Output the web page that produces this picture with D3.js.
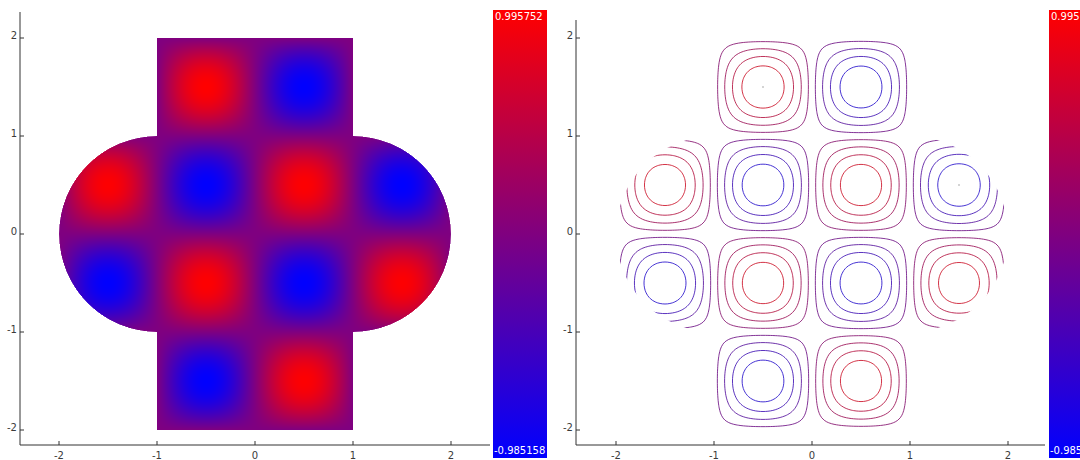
<!DOCTYPE html>
<html>
<head>
<meta charset="utf-8">
<script src="https://cdn.jsdelivr.net/npm/d3@7"></script>
<style>
  html, body { margin: 0; padding: 0; background: #fff; overflow: hidden; }
  svg { display: block; }
  .tick-label { font-family: "DejaVu Sans", sans-serif; font-size: 10px; fill: #3a3a3a; }
  .cbar-label { font-family: "DejaVu Sans", sans-serif; font-size: 10px; fill: #fff; }
</style>
</head>
<body>
<svg id="chart" width="1080" height="460"></svg>
<script>
// Mode shape on the cross/stadium domain: one bump per unit cell.
// Cell centres and the peak value reached inside each cell.
const cellX    = [-0.5,  0.5, -1.5, -0.5,  0.5,  1.5, -1.5, -0.5,  0.5,  1.5, -0.5,  0.5];
const cellY    = [ 1.5,  1.5,  0.5,  0.5,  0.5,  0.5, -0.5, -0.5, -0.5, -0.5, -1.5, -1.5];
const cellPeak = [0.995752, -0.978, 0.981, -0.975, 0.983, -0.985158,
                  -0.979, 0.984, -0.977, 0.980, -0.976, 0.982];

// Colour bar range (min, max) and its printed labels
const colorDomain = [-0.985158, 0.995752];
const colorLabels = ["0.995752", "-0.985158"];

// Axis ticks
const tickValues = [-2, -1, 0, 1, 2];
const tickLabels = ["-2", "-1", "0", "1", "2"];

// Number of contour levels, evenly spaced from min to max
const contourCount = 10;

const svg = d3.select("#chart");
const color = d3.scaleLinear().domain(colorDomain).range(["#0000ff", "#ff0000"]).interpolate(d3.interpolateRgb);

// Field value at (x, y)
function field(x, y) {
  for (let k = 0; k < cellX.length; k++) {
    const dx = x - cellX[k], dy = y - cellY[k];
    if (Math.abs(dx) <= 0.5 && Math.abs(dy) <= 0.5) {
      return cellPeak[k] * Math.cos(Math.PI * dx) * Math.cos(Math.PI * dy);
    }
  }
  return 0;
}
function inside(x, y) {
  const ax = Math.abs(x), ay = Math.abs(y);
  if (ax <= 1 && ay <= 2) return true;
  if (ay <= 1 && (ax - 1) * (ax - 1) + y * y <= 1) return true;
  return false;
}

// Domain outline in pixel space
function outline(xs, ys) {
  const r = xs(1) - xs(0);
  return `M${xs(-1)},${ys(2)}L${xs(1)},${ys(2)}L${xs(1)},${ys(1)}` +
         `A${r},${r} 0 0 1 ${xs(1)},${ys(-1)}` +
         `L${xs(1)},${ys(-2)}L${xs(-1)},${ys(-2)}L${xs(-1)},${ys(-1)}` +
         `A${r},${r} 0 0 1 ${xs(-1)},${ys(1)}Z`;
}

function drawAxes(g, xs, ys, axisX, axisTop, axisBottom, axisRight) {
  g.append("line").attr("x1", axisX).attr("x2", axisX).attr("y1", axisTop).attr("y2", axisBottom)
    .attr("stroke", "#333").attr("stroke-width", 1);
  g.append("line").attr("x1", axisX).attr("x2", axisRight).attr("y1", axisBottom).attr("y2", axisBottom)
    .attr("stroke", "#333").attr("stroke-width", 1);
  tickValues.forEach((v, i) => {
    g.append("line").attr("x1", axisX).attr("x2", axisX + 4).attr("y1", ys(v)).attr("y2", ys(v))
      .attr("stroke", "#333");
    g.append("text").attr("class", "tick-label").attr("x", axisX - 3).attr("y", ys(v) + 1)
      .attr("text-anchor", "end").text(tickLabels[i]);
    g.append("line").attr("x1", xs(v)).attr("x2", xs(v)).attr("y1", axisBottom).attr("y2", axisBottom - 4)
      .attr("stroke", "#333");
    g.append("text").attr("class", "tick-label").attr("x", xs(v)).attr("y", axisBottom + 14)
      .attr("text-anchor", "middle").text(tickLabels[i]);
  });
}

function drawColorbar(g, id, x, y0, y1, w) {
  const grad = svg.append("defs").append("linearGradient").attr("id", id)
    .attr("x1", 0).attr("x2", 0).attr("y1", 0).attr("y2", 1);
  grad.append("stop").attr("offset", "0%").attr("stop-color", color(colorDomain[1]));
  grad.append("stop").attr("offset", "100%").attr("stop-color", color(colorDomain[0]));
  g.append("rect").attr("x", x).attr("y", y0).attr("width", w).attr("height", y1 - y0)
    .attr("fill", `url(#${id})`);
  g.append("text").attr("class", "cbar-label").attr("x", x + 2).attr("y", y0 + 10).text(colorLabels[0]);
  g.append("text").attr("class", "cbar-label").attr("x", x + 1).attr("y", y1 - 4).text(colorLabels[1]);
}

// ---------- Left panel: shaded field ----------
const xL = d3.scaleLinear().domain([-2, 2]).range([59, 451]);
const yL = d3.scaleLinear().domain([-2, 2]).range([430, 38]);
{
  const g = svg.append("g");
  const x0 = Math.floor(xL(-2)), x1 = Math.ceil(xL(2));
  const y0 = Math.floor(yL(2)), y1 = Math.ceil(yL(-2));
  const W = x1 - x0, H = y1 - y0;
  const canvas = document.createElement("canvas");
  canvas.width = W; canvas.height = H;
  const ctx = canvas.getContext("2d");
  const img = ctx.createImageData(W, H);
  for (let j = 0; j < H; j++) {
    for (let i = 0; i < W; i++) {
      const x = xL.invert(x0 + i + 0.5), y = yL.invert(y0 + j + 0.5);
      const p = (j * W + i) * 4;
      if (!inside(x, y)) { img.data[p + 3] = 0; continue; }
      const c = d3.rgb(color(field(x, y)));
      img.data[p] = c.r; img.data[p + 1] = c.g; img.data[p + 2] = c.b; img.data[p + 3] = 255;
    }
  }
  ctx.putImageData(img, 0, 0);
  svg.append("clipPath").attr("id", "clipL").append("path").attr("d", outline(xL, yL));
  g.append("image").attr("x", x0).attr("y", y0).attr("width", W).attr("height", H)
    .attr("href", canvas.toDataURL()).attr("clip-path", "url(#clipL)");
  drawAxes(g, xL, yL, 20, 12, 445, 490);
  drawColorbar(g, "cbarL", 493, 10, 458, 54);
}

// ---------- Right panel: contour lines ----------
const xR = d3.scaleLinear().domain([-2, 2]).range([616, 1008]);
const yR = d3.scaleLinear().domain([-2, 2]).range([430, 38]);
{
  const g = svg.append("g");
  const gx0 = -2.1, step = 0.025, n = 169;
  const values = new Array(n * n);
  for (let j = 0; j < n; j++) {
    for (let i = 0; i < n; i++) {
      values[j * n + i] = field(gx0 + i * step, gx0 + j * step);
    }
  }
  const levels = d3.range(contourCount).map(k =>
    k === contourCount - 1 ? colorDomain[1]
      : colorDomain[0] + k * (colorDomain[1] - colorDomain[0]) / (contourCount - 1));
  const contours = d3.contours().size([n, n]).thresholds(levels)(values);
  const proj = d3.geoTransform({
    point(px, py) {
      this.stream.point(xR(gx0 + (px - 0.5) * step), yR(gx0 + (py - 0.5) * step));
    }
  });
  const path = d3.geoPath(proj);
  svg.append("clipPath").attr("id", "clipR").append("path").attr("d", outline(xR, yR));
  const gc = g.append("g").attr("clip-path", "url(#clipR)");
  gc.selectAll("path").data(contours).join("path")
    .attr("d", path)
    .attr("fill", "none")
    .attr("stroke", d => d3.rgb(color(d.value)).darker(0.35))
    .attr("stroke-width", 1)
    .attr("stroke-opacity", 0.8);
  // Extreme levels collapse to a single point at the cell whose peak reaches them
  const peakIdx = d3.range(cellX.length).filter(k =>
    cellPeak[k] === colorDomain[0] || cellPeak[k] === colorDomain[1]);
  gc.selectAll("circle").data(peakIdx).join("circle")
    .attr("cx", k => xR(cellX[k]))
    .attr("cy", k => yR(cellY[k]))
    .attr("r", 0.7)
    .attr("fill", "#888");
  drawAxes(g, xR, yR, 576, 20, 445, 1045);
  drawColorbar(g, "cbarR", 1049, 10, 458, 54);
}
</script>
</body>
</html>
